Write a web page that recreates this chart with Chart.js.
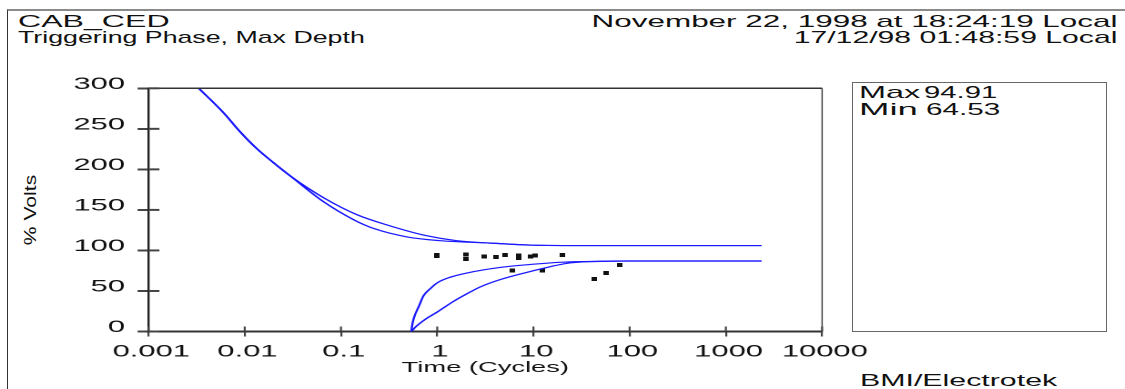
<!DOCTYPE html>
<html>
<head>
<meta charset="utf-8">
<script src="https://cdn.jsdelivr.net/npm/chart.js@4/dist/chart.umd.min.js"></script>
<style>
  html, body { margin: 0; padding: 0; background: #fff; }
  body { width: 1125px; height: 389px; position: relative; overflow: hidden;
         font-family: "Liberation Sans", Arial, sans-serif; color: #111; }
  #frame { position: absolute; left: 7px; top: 9px; width: 1130px; height: 400px;
           border-top: 2px solid #8a8a8a; border-left: 1px solid #333; }
  #wrap { position: absolute; left: 0; top: 0; width: 618.13px; height: 389px;
          transform: scaleX(1.82); transform-origin: 0 0; }
  .t { position: absolute; white-space: nowrap; line-height: 1; font-size: 17px; }
  .l { transform-origin: 0 0; }
  .r { transform-origin: 100% 0; }
  #statBox { position: absolute; left: 852px; top: 82px; width: 253px; height: 248px;
             border: 1px solid #666; }
  #yTitle { position: absolute; left: 31px; top: 210px; font-size: 16px; line-height: 1;
            white-space: nowrap; }
</style>
</head>
<body>
<div id="frame"></div>
<div class="t l" id="h1" style="left:18px; top:13px;">CAB_CED</div>
<div class="t l" id="h2" style="left:18px; top:29px;">Triggering Phase, Max Depth</div>
<div class="t r" id="h3" style="right:8px; top:13px;">November 22, 1998 at 18:24:19 Local</div>
<div class="t r" id="h4" style="right:8px; top:29px;">17/12/98 01:48:59 Local</div>
<div id="statBox"></div>
<div class="t l" id="s1" style="left:859px; top:84px;">Max</div>
<div class="t l" id="s2" style="left:924px; top:84px;">94.91</div>
<div class="t l" id="s3" style="left:859px; top:101px;">Min</div>
<div class="t l" id="s4" style="left:926px; top:101px;">64.53</div>
<div class="t l" id="foot" style="left:860px; top:372px;">BMI/Electrotek</div>
<div id="yTitle">% Volts</div>
<div id="wrap"><canvas id="curveChart"></canvas></div>
<script>
// axis ticks
const xTickValues = [0.001, 0.01, 0.1, 1, 10, 100, 1000, 10000];
const xTickLabels = ['0.001', '0.01', '0.1', '1', '10', '100', '1000', '10000'];
const yTickValues = [0, 50, 100, 150, 200, 250, 300];
const yTickLabels = ['0', '50', '100', '150', '200', '250', '300'];

// upper tolerance curves (cycles, % volts)
const upperOuterX = [0.00333, 0.006, 0.009, 0.0135, 0.02, 0.03, 0.066, 0.147, 0.33, 0.72, 1.6, 3.6, 10, 20, 2350];
const upperOuterY = [300, 270, 246, 225, 208, 191.5, 165, 144, 130, 119, 112, 109, 106.5, 106, 106];
const upperInnerX = [0.00333, 0.006, 0.009, 0.0135, 0.02, 0.03, 0.066, 0.135, 0.22, 0.485, 1.08, 3.6, 10, 20, 2350];
const upperInnerY = [300, 270, 246, 225, 208, 191.5, 160, 138, 127, 116.7, 112, 109, 106.5, 106, 106];

// lower tolerance curves
const lowerSteepX = [0.538, 0.55, 0.57, 0.65, 0.72, 0.85, 1.0, 1.37, 2.0, 4.5, 10, 20, 50, 100, 2350];
const lowerSteepY = [0, 8, 16, 32, 44, 53, 60, 67, 72, 79, 83, 85.5, 86.5, 87, 87];
const lowerSlowX = [0.538, 0.6, 0.75, 1.0, 1.47, 2.0, 2.8, 4.5, 10, 15, 22, 35, 70, 2350];
const lowerSlowY = [0, 6, 15, 24, 37, 46, 55, 64, 75, 80, 84, 86, 87, 87];

// measured events
const eventX = [1.0, 1.0, 2.0, 2.0, 3.06, 4.1, 5.1, 6.1, 7.1, 7.1, 9.3, 10.4, 12.3, 19.9, 42.5, 57, 78.3];
const eventY = [94.3, 93.2, 94.9, 89.5, 92.4, 91.6, 94.4, 75.5, 94.0, 90.7, 92.8, 94.0, 75.5, 94.4, 64.53, 72.2, 82.1];

function pairs(xs, ys) {
  return xs.map((x, i) => ({ x: x, y: ys[i] }));
}

// stretch html texts to the wide lettering of the original
function fit(id, w) {
  const el = document.getElementById(id);
  el.style.transform = 'scaleX(' + (w / el.offsetWidth) + ')';
}
fit('h1', 151);
fit('h2', 346);
fit('h3', 525);
fit('h4', 323);
fit('s1', 61);
fit('s2', 74);
fit('s3', 58);
fit('s4', 75);
fit('foot', 198);
const yt = document.getElementById('yTitle');
yt.style.transform = 'translate(-50%,-50%) rotate(-90deg) scaleX(' + (70 / yt.offsetWidth) + ')';

// small event marker
const marker = document.createElement('canvas');
marker.width = 3;
marker.height = 4;
const mctx = marker.getContext('2d');
mctx.fillStyle = '#111';
mctx.fillRect(0, 0, 3, 4);

// box lines and ticks that cross the axes
const plotFrame = {
  id: 'plotFrame',
  afterDraw(chart) {
    const { ctx, chartArea: a, scales } = chart;
    ctx.save();
    ctx.strokeStyle = '#333';
    ctx.lineWidth = 1.5;
    ctx.beginPath();
    ctx.moveTo(a.left, a.top);
    ctx.lineTo(a.right, a.top);
    ctx.stroke();
    ctx.lineWidth = 0.7;
    ctx.beginPath();
    ctx.moveTo(a.right, a.top);
    ctx.lineTo(a.right, a.bottom);
    ctx.stroke();
    ctx.strokeStyle = '#444';
    ctx.lineWidth = 2;
    scales.y.ticks.forEach(t => {
      const py = scales.y.getPixelForValue(t.value);
      ctx.beginPath();
      ctx.moveTo(a.left, py);
      ctx.lineTo(a.left + 6, py);
      ctx.stroke();
    });
    ctx.lineWidth = 1.1;
    scales.x.ticks.forEach(t => {
      const px = scales.x.getPixelForValue(t.value);
      ctx.beginPath();
      ctx.moveTo(px, a.bottom);
      ctx.lineTo(px, a.bottom - 5);
      ctx.stroke();
    });
    ctx.restore();
  }
};

Chart.defaults.font.family = '"Liberation Sans", Arial, sans-serif';
Chart.defaults.color = '#111';

const lineStyle = {
  borderColor: 'rgb(25,25,255)',
  borderWidth: 1.2,
  pointRadius: 0,
  fill: false,
  cubicInterpolationMode: 'monotone'
};

const ctx = document.getElementById('curveChart').getContext('2d');
const curveChart = new Chart(ctx, {
  type: 'line',
  data: {
    datasets: [
      Object.assign({ label: 'upper outer', data: pairs(upperOuterX, upperOuterY) }, lineStyle),
      Object.assign({ label: 'upper inner', data: pairs(upperInnerX, upperInnerY) }, lineStyle),
      Object.assign({ label: 'lower steep', data: pairs(lowerSteepX, lowerSteepY) }, lineStyle),
      Object.assign({ label: 'lower slow', data: pairs(lowerSlowX, lowerSlowY) }, lineStyle),
      {
        label: 'events',
        data: pairs(eventX, eventY),
        showLine: false,
        pointStyle: marker,
        pointRadius: 2,
        borderColor: '#111',
        backgroundColor: '#111'
      }
    ]
  },
  options: {
    responsive: true,
    maintainAspectRatio: false,
    animation: false,
    devicePixelRatio: 2,
    layout: { padding: { left: 0, right: 166.4, top: 88.3, bottom: 0 } },
    plugins: {
      legend: { display: false },
      tooltip: { enabled: false }
    },
    scales: {
      x: {
        type: 'logarithmic',
        min: 0.001,
        max: 10000,
        afterBuildTicks: scale => { scale.ticks = xTickValues.map(v => ({ value: v })); },
        afterFit: scale => { scale.height = 57.5; },
        ticks: {
          autoSkip: false,
          maxRotation: 0,
          padding: 5,
          labelOffset: 1.5,
          font: { size: 17 },
          callback: (v, i) => xTickLabels[i]
        },
        grid: { drawOnChartArea: false, tickLength: 5, color: '#444', lineWidth: 1.1 },
        border: { display: true, color: '#333', width: 2 },
        title: {
          display: true,
          text: 'Time (Cycles)',
          font: { size: 15 },
          padding: { top: 0, bottom: 12 }
        }
      },
      y: {
        min: 0,
        max: 300,
        afterBuildTicks: scale => { scale.ticks = yTickValues.map(v => ({ value: v })); },
        afterFit: scale => { scale.width = 81.6; },
        ticks: {
          padding: 6.9,
          labelOffset: -4,
          font: { size: 17 },
          callback: (v, i) => yTickLabels[i]
        },
        grid: { drawOnChartArea: false, tickLength: 6, color: '#444', lineWidth: 2 },
        border: { display: true, color: '#222', width: 1.2 }
      }
    }
  },
  plugins: [plotFrame]
});
</script>
</body>
</html>
